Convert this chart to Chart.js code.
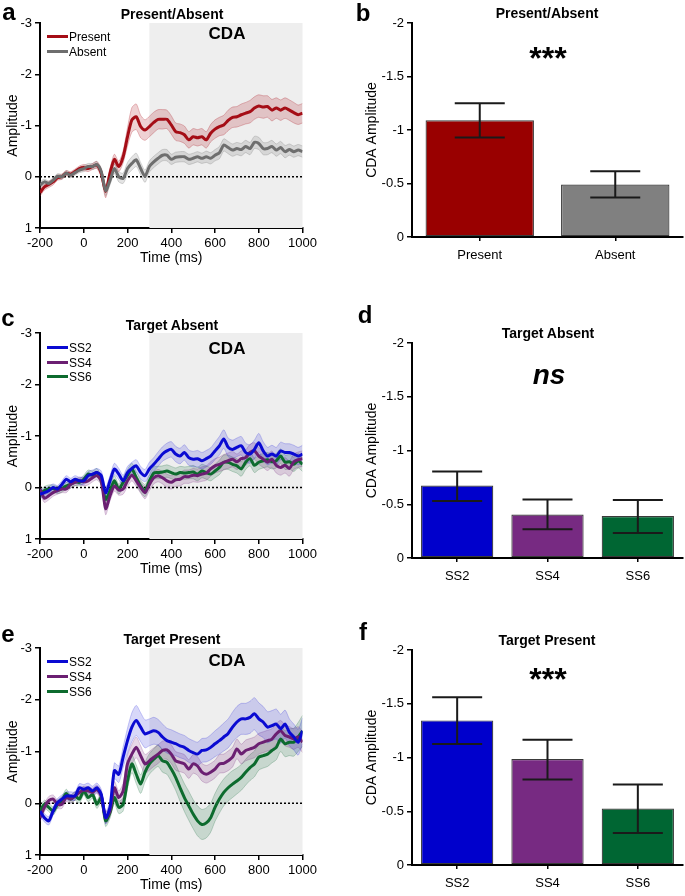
<!DOCTYPE html>
<html>
<head>
<meta charset="utf-8">
<script src="https://cdn.jsdelivr.net/npm/chart.js@4.4.1/dist/chart.umd.min.js"></script>
<style>
  html, body { margin:0; padding:0; background:#fff; }
  #fig { position:relative; width:685px; height:896px; background:#fff; font-family:"Liberation Sans", Arial, sans-serif; color:#000; overflow:hidden; }
  canvas { position:absolute; }
  .t { position:absolute; transform:translate(-50%,-50%); white-space:nowrap; line-height:1; }
  .letter { font-weight:bold; font-size:24px; }
  .ttl { font-weight:bold; font-size:14px; }
  .cda { font-weight:bold; font-size:17px; }
  .stars { font-weight:bold; font-size:32px; }
  .ns { font-weight:bold; font-style:italic; font-size:28px; }
  .leg { position:absolute; font-size:12px; line-height:1; white-space:nowrap; transform:translateY(-50%); }
  .leg span.sw { display:inline-block; width:21px; height:3px; vertical-align:middle; margin-right:1px; position:relative; top:-1px; }
</style>
</head>
<body>
<div id="fig">
  <canvas id="ca" width="320" height="267" style="left:0;top:0"></canvas>
  <canvas id="cb" width="345" height="267" style="left:340px;top:0"></canvas>
  <canvas id="cc" width="320" height="268" style="left:0;top:310px"></canvas>
  <canvas id="cd" width="345" height="268" style="left:340px;top:320px"></canvas>
  <canvas id="ce" width="320" height="269" style="left:0;top:625px"></canvas>
  <canvas id="cf" width="345" height="268" style="left:340px;top:627px"></canvas>

  <div class="t letter" style="left:9px;top:12px">a</div>
  <div class="t letter" style="left:363px;top:13px">b</div>
  <div class="t letter" style="left:8px;top:318px">c</div>
  <div class="t letter" style="left:365px;top:315px">d</div>
  <div class="t letter" style="left:8px;top:634px">e</div>
  <div class="t letter" style="left:363px;top:632px">f</div>

  <div class="t ttl" style="left:172px;top:14px">Present/Absent</div>
  <div class="t ttl" style="left:547px;top:13px">Present/Absent</div>
  <div class="t ttl" style="left:172px;top:325px">Target Absent</div>
  <div class="t ttl" style="left:548px;top:333px">Target Absent</div>
  <div class="t ttl" style="left:172px;top:639px">Target Present</div>
  <div class="t ttl" style="left:547px;top:640px">Target Present</div>

  <div class="t cda" style="left:227px;top:33px">CDA</div>
  <div class="t cda" style="left:227px;top:348px">CDA</div>
  <div class="t cda" style="left:227px;top:660px">CDA</div>

  <div class="t stars" style="left:548px;top:58px">***</div>
  <div class="t ns" style="left:549px;top:375px">ns</div>
  <div class="t stars" style="left:548px;top:679px">***</div>

  <div class="leg" style="left:47px;top:37px"><span class="sw" style="background:#a50d16"></span>Present</div>
  <div class="leg" style="left:47px;top:52px"><span class="sw" style="background:#6e6e6e"></span>Absent</div>
  <div class="leg" style="left:47px;top:348px"><span class="sw" style="background:#0a0ad2"></span>SS2</div>
  <div class="leg" style="left:47px;top:363px"><span class="sw" style="background:#6b1f72"></span>SS4</div>
  <div class="leg" style="left:47px;top:377px"><span class="sw" style="background:#0d6b2e"></span>SS6</div>
  <div class="leg" style="left:47px;top:662px"><span class="sw" style="background:#0a0ad2"></span>SS2</div>
  <div class="leg" style="left:47px;top:677px"><span class="sw" style="background:#6b1f72"></span>SS4</div>
  <div class="leg" style="left:47px;top:692px"><span class="sw" style="background:#0d6b2e"></span>SS6</div>
</div>
<script>
// ---------- DATA ----------
const times = [-200,-180,-160,-140,-120,-100,-80,-60,-40,-20,0,20,40,60,80,100,120,140,160,180,200,220,240,260,280,300,320,340,360,380,400,420,440,460,480,500,520,540,560,580,600,620,640,660,680,700,720,740,760,780,800,820,840,860,880,900,920,940,960,980,1000];
const timeTicks = [-200,0,200,400,600,800,1000];
const cdaWindow = [300,1000];

// Panel a: Present / Absent
const present = [0.31,0.2,0.15,0.1,0.02,0,-0.07,-0.05,-0.1,-0.16, -0.18,-0.16,-0.2,-0.23,-0.07,0.29,-0.07,-0.34,-0.2,-0.39, -0.78,-1.11,-1.17,-0.98,-0.91,-0.98,-1.06,-1.12,-1.12,-1.12, -1.01,-0.88,-0.86,-0.82,-0.72,-0.78,-0.76,-0.78,-0.72,-0.85, -0.93,-0.98,-1.01,-1.1,-1.16,-1.17,-1.21,-1.24,-1.27,-1.34, -1.38,-1.36,-1.37,-1.3,-1.34,-1.3,-1.34,-1.3,-1.25,-1.21,-1.24];
const presentSem = [0.07,0.06,0.06,0.06,0.05,0.05,0.05,0.05,0.05,0.05,0.06,0.06,0.06,0.07, 0.08,0.12,0.1,0.1,0.1,0.12, 0.18,0.24,0.25,0.22,0.2, 0.2,0.2,0.19,0.19,0.18,0.18,0.17,0.17,0.17,0.16,0.16,0.16,0.16,0.16,0.17, 0.18,0.18,0.19,0.2,0.2,0.2,0.21,0.21,0.22,0.22,0.22,0.22,0.21,0.21,0.2,0.2,0.2,0.2,0.2,0.19,0.19];
const absent = [0.16,0.1,0.13,0.07,-0.01,0,-0.07,-0.03,-0.08,-0.13, -0.16,-0.2,-0.2,-0.24,-0.1,0.27,0.07,-0.16,0,0.03, -0.16,-0.26,-0.33,-0.16,-0.01,-0.2,-0.29,-0.36,-0.42,-0.42, -0.34,-0.38,-0.39,-0.39,-0.34,-0.36,-0.39,-0.36,-0.39,-0.36, -0.42,-0.47,-0.62,-0.57,-0.52,-0.55,-0.53,-0.59,-0.55,-0.67, -0.65,-0.55,-0.55,-0.59,-0.52,-0.57,-0.49,-0.53,-0.49,-0.52,-0.49];
const absentSem = [0.06,0.05,0.05,0.05,0.05,0.05,0.05,0.05,0.05,0.05,0.06,0.06,0.06,0.06, 0.07,0.1,0.09,0.1,0.1,0.1, 0.12,0.13,0.13,0.12,0.12, 0.11,0.11,0.11,0.11,0.11,0.1,0.1,0.1,0.1,0.1,0.1,0.1,0.1,0.11,0.11, 0.11,0.12,0.12,0.12,0.12,0.12,0.12,0.12,0.12,0.12,0.12,0.12,0.12,0.12,0.12,0.12,0.12,0.11,0.11,0.11,0.11];

// Panel c: Target Absent by set size
const taSS2 = [0.13,0.1,0.06,0,0.03,-0.06,-0.16,-0.11,-0.16,-0.13, -0.13,-0.23,-0.26,-0.29,-0.23,0.1,-0.13,-0.36,-0.26,-0.13, -0.29,-0.37,-0.42,-0.29,-0.23,-0.36,-0.45,-0.55,-0.65,-0.71, -0.74,-0.65,-0.61,-0.68,-0.58,-0.55,-0.56,-0.52,-0.56,-0.61, -0.71,-0.81,-0.94,-0.78,-0.74,-0.78,-0.81,-0.68,-0.65,-0.74, -0.87,-0.71,-0.61,-0.65,-0.61,-0.71,-0.68,-0.68,-0.65,-0.61,-0.65];
const taSS4 = [0.03,0.21,0.16,0.1,0.06,0.03,0.03,-0.06,-0.1,-0.13, -0.11,-0.13,-0.19,-0.23,-0.13,0.41,0.16,-0.03,0.05,0.03, -0.13,-0.24,-0.13,0,0.1,-0.06,-0.19,-0.23,-0.19,-0.13, -0.1,-0.15,-0.16,-0.21,-0.21,-0.24,-0.23,-0.26,-0.28,-0.36, -0.42,-0.45,-0.49,-0.52,-0.55,-0.5,-0.56,-0.58,-0.68,-0.71, -0.61,-0.55,-0.49,-0.55,-0.43,-0.39,-0.43,-0.37,-0.5,-0.54,-0.56];
const taSS6 = [0.13,0.06,0.03,0.02,0.05,0.02,-0.03,-0.06,-0.11,-0.1, -0.16,-0.26,-0.24,-0.29,-0.13,0.23,0.06,-0.13,0.03,-0.1, -0.24,-0.36,-0.19,-0.03,0.06,-0.13,-0.28,-0.29,-0.3,-0.32, -0.29,-0.26,-0.29,-0.28,-0.29,-0.3,-0.26,-0.32,-0.29,-0.26, -0.32,-0.39,-0.49,-0.49,-0.45,-0.42,-0.36,-0.49,-0.56,-0.43, -0.49,-0.52,-0.54,-0.5,-0.52,-0.61,-0.49,-0.5,-0.45,-0.52,-0.45];
const taSS2Sem = [0.08,0.08,0.08,0.07,0.07,0.07,0.07,0.07,0.07,0.07, 0.08,0.08,0.08,0.08,0.09,0.11,0.1,0.11,0.11,0.11, 0.12,0.12,0.12,0.12,0.12, 0.13,0.13,0.14,0.14,0.15, 0.15,0.15,0.15,0.15,0.15,0.15,0.16,0.16,0.16,0.16, 0.17,0.18,0.18,0.18,0.18,0.18,0.18,0.18,0.18,0.18, 0.18,0.18,0.17,0.17,0.17,0.17,0.17,0.17,0.17,0.17,0.17];
const taSS4Sem = [0.08,0.08,0.08,0.07,0.07,0.07,0.07,0.07,0.07,0.07, 0.08,0.08,0.08,0.08,0.09,0.12,0.1,0.1,0.1,0.1, 0.11,0.11,0.11,0.11,0.12, 0.12,0.12,0.12,0.12,0.13, 0.13,0.13,0.13,0.13,0.13,0.13,0.13,0.14,0.14,0.14, 0.14,0.14,0.15,0.15,0.15,0.15,0.15,0.15,0.16,0.16, 0.16,0.16,0.16,0.16,0.15,0.15,0.15,0.15,0.15,0.15,0.15];
const taSS6Sem = [0.08,0.08,0.08,0.07,0.07,0.07,0.07,0.07,0.07,0.07, 0.08,0.08,0.08,0.08,0.09,0.11,0.1,0.1,0.1,0.1, 0.11,0.11,0.12,0.12,0.12, 0.12,0.12,0.12,0.12,0.12, 0.12,0.12,0.12,0.12,0.12,0.13,0.13,0.13,0.13,0.13, 0.13,0.14,0.14,0.14,0.14,0.14,0.14,0.14,0.14,0.14, 0.14,0.14,0.14,0.14,0.14,0.14,0.14,0.14,0.14,0.14,0.14];

// Panel e: Target Present by set size
const tpSS2 = [0.15,0.28,0.34,0.15,-0.01,-0.08,-0.14,-0.14,-0.14,-0.3, -0.27,-0.3,-0.24,-0.3,-0.17,0.28,0.08,-0.63,-0.56,-0.89, -1.21,-1.47,-1.6,-1.47,-1.34,-1.37,-1.4,-1.37,-1.28,-1.21, -1.18,-1.15,-1.11,-1.08,-1.02,-0.98,-0.95,-1.02,-1.03,-1.08, -1.15,-1.21,-1.28,-1.35,-1.47,-1.57,-1.63,-1.63,-1.66,-1.73, -1.63,-1.57,-1.47,-1.5,-1.53,-1.44,-1.53,-1.37,-1.28,-1.18,-1.4];
const tpSS4 = [0.28,0.08,-0.05,-0.08,0.02,0.02,-0.11,-0.08,-0.14,-0.21, -0.25,-0.24,-0.21,-0.27,-0.14,0.28,0.15,-0.3,-0.11,-0.24, -0.76,-0.95,-1.08,-0.92,-0.76,-0.82,-0.89,-0.95,-1.02,-1.03, -0.95,-0.82,-0.79,-0.76,-0.66,-0.76,-0.72,-0.6,-0.56,-0.6, -0.66,-0.76,-0.77,-0.82,-0.89,-1.05,-0.95,-1.02,-1.05,-1.08, -1.15,-1.18,-1.21,-1.24,-1.34,-1.4,-1.31,-1.28,-1.24,-1.28,-1.18];
const tpSS6 = [0.15,0.02,0.08,0.15,0.02,-0.05,-0.19,-0.08,-0.14,-0.08, -0.24,-0.11,-0.17,0.02,-0.11,0.34,0.18,-0.11,0.08,0.02, -0.43,-0.76,-0.56,-0.37,-0.6,-0.76,-0.85,-0.92,-0.82,-0.79, -0.66,-0.5,-0.3,-0.11,0.05,0.21,0.34,0.41,0.38,0.28, 0.08,-0.08,-0.21,-0.3,-0.37,-0.43,-0.5,-0.6,-0.69,-0.76, -0.89,-0.92,-0.95,-1.02,-1.08,-1.24,-1.15,-1.18,-1.18,-1.28,-1.4];
const tpSS2Sem = [0.08,0.08,0.08,0.08,0.08,0.08,0.08,0.08,0.08,0.08, 0.09,0.09,0.09,0.09,0.1,0.12,0.12,0.15,0.16,0.2, 0.24,0.28,0.29,0.28,0.27, 0.26,0.26,0.25,0.25,0.24, 0.24,0.23,0.23,0.23,0.23,0.23,0.23,0.23,0.23,0.24, 0.25,0.26,0.27,0.28,0.29,0.3,0.3,0.3,0.31,0.31, 0.31,0.3,0.3,0.29,0.29,0.28,0.27,0.26,0.25,0.25,0.25];
const tpSS4Sem = [0.08,0.08,0.08,0.08,0.08,0.08,0.08,0.08,0.08,0.08, 0.08,0.08,0.08,0.08,0.09,0.11,0.11,0.12,0.13,0.15, 0.17,0.19,0.2,0.19,0.18, 0.18,0.18,0.18,0.18,0.18, 0.18,0.18,0.18,0.18,0.18,0.18,0.18,0.17,0.17,0.17, 0.17,0.18,0.18,0.19,0.19,0.19,0.19,0.2,0.2,0.2, 0.2,0.2,0.2,0.2,0.2,0.2,0.2,0.2,0.2,0.2,0.2];
const tpSS6Sem = [0.08,0.08,0.08,0.08,0.08,0.08,0.08,0.08,0.08,0.08, 0.08,0.08,0.08,0.08,0.09,0.11,0.11,0.12,0.12,0.13, 0.15,0.17,0.18,0.18,0.19, 0.2,0.2,0.21,0.22,0.23, 0.24,0.25,0.26,0.27,0.28,0.28,0.29,0.29,0.29,0.28, 0.27,0.27,0.26,0.26,0.26,0.25,0.25,0.25,0.25,0.25, 0.25,0.24,0.24,0.24,0.24,0.24,0.25,0.26,0.27,0.28,0.3];

// Bar panels
const paCats = ['Present','Absent'];
const paMeans = [-1.09,-0.49];
const paErrHi = [-1.25,-0.615];
const paErrLo = [-0.93,-0.37];

const ssCats = ['SS2','SS4','SS6'];
const taMeans = [-0.675,-0.405,-0.39];
const taErrHi = [-0.805,-0.545,-0.54];
const taErrLo = [-0.53,-0.268,-0.232];

const tpMeans = [-1.345,-0.985,-0.525];
const tpErrHi = [-1.56,-1.165,-0.75];
const tpErrLo = [-1.125,-0.795,-0.298];

const ampTicks = [-3,-2,-1,0,1];
const cdaTicks = [-2,-1.5,-1,-0.5,0];

// ---------- STYLE ----------
Chart.defaults.font.family = '"Liberation Sans", Arial, sans-serif';
Chart.defaults.color = '#000';
const tickFont = {size:13};
const titleFont = {size:14};
const plainLabel = v => String(v);

const cdaShade = {
  id:'cdaShade',
  beforeDatasetsDraw(chart){
    const {ctx, chartArea:a, scales:{x}} = chart;
    const x0 = x.getPixelForValue(cdaWindow[0]);
    const x1 = x.getPixelForValue(cdaWindow[1]);
    ctx.save();
    ctx.fillStyle = '#eeeeee';
    ctx.fillRect(x0, a.top, x1 - x0, a.bottom - a.top);
    ctx.restore();
  }
};

const errorBars = {
  id:'errorBars',
  afterDatasetsDraw(chart){
    const {ctx, scales:{y}} = chart;
    const ds = chart.data.datasets[0];
    const meta = chart.getDatasetMeta(0);
    ctx.save();
    ctx.strokeStyle = '#1a1a1a';
    ctx.lineWidth = 2;
    meta.data.forEach((bar, i) => {
      const yh = y.getPixelForValue(ds.errHi[i]);
      const yl = y.getPixelForValue(ds.errLo[i]);
      const cx = bar.x, cap = 25;
      ctx.beginPath();
      ctx.moveTo(cx, yh); ctx.lineTo(cx, yl);
      ctx.moveTo(cx - cap, yh); ctx.lineTo(cx + cap, yh);
      ctx.moveTo(cx - cap, yl); ctx.lineTo(cx + cap, yl);
      ctx.stroke();
    });
    ctx.restore();
  }
};

function pts(vals){ return times.map((t,i)=>({x:t, y:vals[i]})); }
function shifted(vals, sem, sign){ return times.map((t,i)=>({x:t, y:vals[i] + sign*sem[i]})); }

function seriesSets(vals, sem, line, band, edge){
  return [
    {data:shifted(vals, sem, 1), fill:'+1', backgroundColor:band, borderColor:edge, borderWidth:0.8, pointRadius:0, tension:0.25, order:3},
    {data:shifted(vals, sem, -1), fill:false, borderColor:edge, borderWidth:0.8, pointRadius:0, tension:0.25, order:3},
    {data:pts(vals), borderColor:line, borderWidth:3, pointRadius:0, tension:0.25, fill:false, order:1}
  ];
}

function lineChart(id, series){
  let sets = [];
  series.forEach(s => { sets = sets.concat(seriesSets(...s)); });
  sets.push({data:[{x:times[0],y:0},{x:times[times.length-1],y:0}], borderColor:'#000', borderWidth:1.3, borderDash:[2,2], pointRadius:0, fill:false, order:2});
  new Chart(document.getElementById(id), {
    type:'line',
    data:{datasets:sets},
    options:{
      responsive:false, animation:false,
      layout:{padding:{top:23, right:16, left:0, bottom:0}},
      plugins:{legend:{display:false}, tooltip:{enabled:false}},
      scales:{
        x:{type:'linear', min:times[0], max:times[times.length-1],
           afterBuildTicks(s){ s.ticks = timeTicks.map(v=>({value:v})); },
           ticks:{font:tickFont, color:'#000', padding:3, autoSkip:false, maxRotation:0, callback:plainLabel},
           grid:{drawOnChartArea:false, drawTicks:true, tickLength:5, color:'#000', lineWidth:1.5},
           border:{display:true, color:'#000', width:2},
           title:{display:true, text:'Time (ms)', font:titleFont, color:'#000', padding:0},
           afterFit(s){ s.height = 39; }},
        y:{type:'linear', min:ampTicks[0], max:ampTicks[ampTicks.length-1], reverse:true,
           afterBuildTicks(s){ s.ticks = ampTicks.map(v=>({value:v})); },
           ticks:{font:tickFont, color:'#000', padding:3, callback:plainLabel},
           grid:{drawOnChartArea:false, drawTicks:true, tickLength:5, color:'#000', lineWidth:1.5},
           border:{display:true, color:'#000', width:2},
           title:{display:true, text:'Amplitude', font:titleFont, color:'#000', padding:{top:5, bottom:0}},
           afterFit(s){ s.width = 40; }}
      }
    },
    plugins:[cdaShade]
  });
}

function barChart(id, cats, means, errHi, errLo, colors){
  new Chart(document.getElementById(id), {
    type:'bar',
    data:{labels:cats, datasets:[{data:means, errHi:errHi, errLo:errLo, backgroundColor:colors, borderColor:'#3a3a3a', borderWidth:1.2, borderSkipped:false, barPercentage:0.8, categoryPercentage:1}]},
    options:{
      responsive:false, animation:false,
      layout:{padding:{top:23, right:2, left:0, bottom:0}},
      plugins:{legend:{display:false}, tooltip:{enabled:false}},
      scales:{
        x:{ticks:{font:tickFont, color:'#000', padding:7},
           grid:{offset:false, drawOnChartArea:false, drawTicks:true, tickLength:4, color:'#000', lineWidth:1.5},
           border:{display:true, color:'#000', width:2},
           afterFit(s){ s.height = 30; }},
        y:{min:cdaTicks[0], max:cdaTicks[cdaTicks.length-1], reverse:true,
           afterBuildTicks(s){ s.ticks = cdaTicks.map(v=>({value:v})); },
           ticks:{font:tickFont, color:'#000', padding:3, callback:plainLabel},
           grid:{drawOnChartArea:false, drawTicks:true, tickLength:5, color:'#000', lineWidth:1.5},
           border:{display:true, color:'#000', width:2},
           title:{display:true, text:'CDA Amplitude', font:titleFont, color:'#000', padding:{top:24, bottom:0}},
           afterFit(s){ s.width = 72; }}
      }
    },
    plugins:[errorBars]
  });
}

const RED = ['#a50d16','rgba(175,25,35,0.2)','rgba(175,25,35,0.35)'];
const GRAY = ['#6e6e6e','rgba(120,120,120,0.2)','rgba(120,120,120,0.35)'];
const BLUE = ['#0a0ad2','rgba(40,40,220,0.18)','rgba(40,40,220,0.3)'];
const PURP = ['#6b1f72','rgba(120,40,130,0.18)','rgba(120,40,130,0.3)'];
const GREEN = ['#0d6b2e','rgba(20,110,60,0.18)','rgba(20,110,60,0.3)'];

lineChart('ca', [[absent, absentSem, ...GRAY],[present, presentSem, ...RED]]);
lineChart('cc', [[taSS2, taSS2Sem, ...BLUE],[taSS4, taSS4Sem, ...PURP],[taSS6, taSS6Sem, ...GREEN]]);
lineChart('ce', [[tpSS2, tpSS2Sem, ...BLUE],[tpSS4, tpSS4Sem, ...PURP],[tpSS6, tpSS6Sem, ...GREEN]]);

barChart('cb', paCats, paMeans, paErrHi, paErrLo, ['#990000','#808080']);
barChart('cd', ssCats, taMeans, taErrHi, taErrLo, ['#0000cc','#772a82','#006633']);
barChart('cf', ssCats, tpMeans, tpErrHi, tpErrLo, ['#0000cc','#772a82','#006633']);
</script>
</body>
</html>
